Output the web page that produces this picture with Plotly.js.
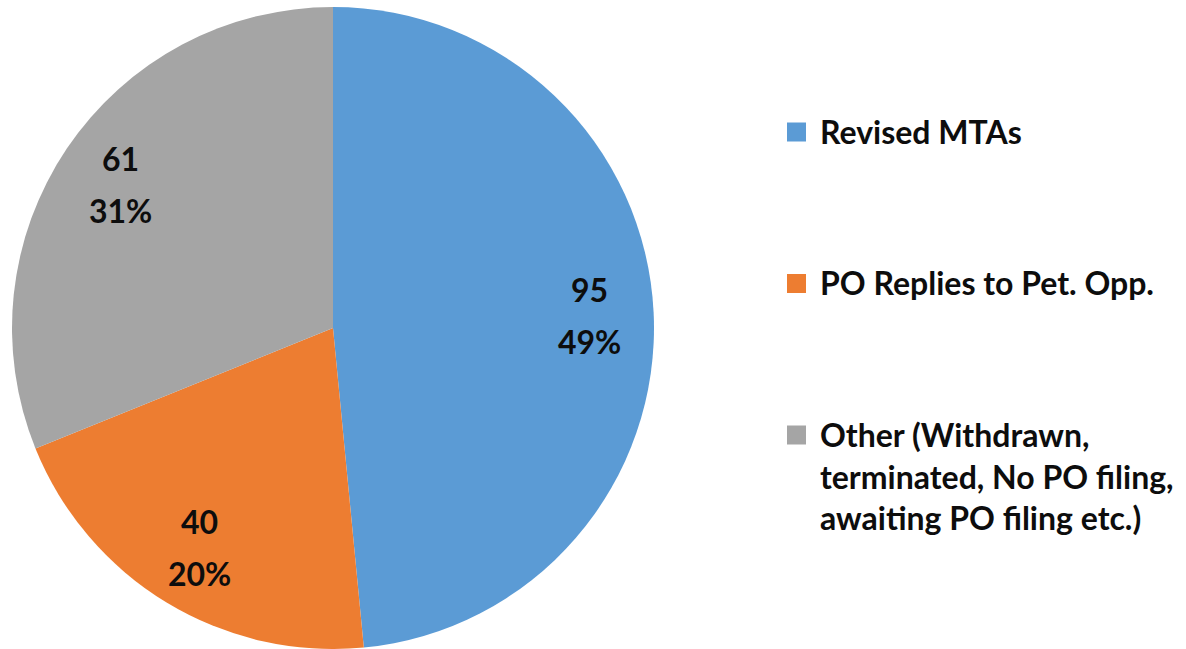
<!DOCTYPE html>
<html><head><meta charset="utf-8">
<script src="https://cdn.plot.ly/plotly-3.0.1.min.js"></script>
<style>html,body{margin:0;padding:0;background:#fff;overflow:hidden}</style>
</head><body><div id="chart" style="width:1186px;height:649px"></div>
<script>
// ---- data ----
const categories = ["Revised MTAs", "PO Replies to Pet. Opp.", "Other (Withdrawn,<br>terminated, No PO filing,<br>awaiting PO filing etc.)"];
const values = [95, 40, 61];
const percentLabels = ["49%", "20%", "31%"];
const colors = ["#5B9BD5", "#ED7D31", "#A5A5A5"];

// ---- layout helpers ----
const W = 1186, H = 649;
const FONT = "Lato, 'Open Sans', sans-serif";
const TEXT_COLOR = "#0d0d0d";
const FONT_SIZE = 32;
const px2x = p => p / W;
const px2y = p => 1 - p / H;

// pie geometry (pixels)
const pieCx = 333, pieCy = 328, pieR = 321;

const trace = {
  type: "pie",
  labels: categories,
  values: values,
  textinfo: "none",
  marker: {colors: colors, line: {width: 0}},
  sort: false,
  direction: "clockwise",
  rotation: 0,
  hoverinfo: "none",
  domain: {x: [px2x(pieCx - pieR), px2x(pieCx + pieR)], y: [px2y(pieCy + pieR), px2y(pieCy - pieR)]}
};

const shapes = [], annotations = [];
const labelFont = {family: FONT, size: FONT_SIZE, color: TEXT_COLOR, weight: "bold"};

// data labels placed on each slice's bisector
const total = values.reduce((a, b) => a + b, 0);
const labelRadius = 0.8, labelHalfGap = 26;
let cum = 0;
values.forEach((v, i) => {
  const mid = (cum + v / 2) / total * 2 * Math.PI;
  cum += v;
  const lx = pieCx + labelRadius * pieR * Math.sin(mid);
  const ly = pieCy - labelRadius * pieR * Math.cos(mid);
  [[String(v), ly - labelHalfGap], [percentLabels[i], ly + labelHalfGap]].forEach(([t, yy]) => {
    annotations.push({
      xref: "paper", yref: "paper", x: px2x(lx), y: px2y(yy),
      xanchor: "center", yanchor: "middle", showarrow: false,
      text: t, font: labelFont
    });
  });
});

// legend built from the data arrays
const legendMarkerX = 787, legendMarkerSize = 19, legendTextX = 818;
const legendFirstY = 132, legendStep = 151.5;
categories.forEach((c, i) => {
  const cy = legendFirstY + i * legendStep;
  shapes.push({
    type: "rect", xref: "paper", yref: "paper",
    x0: px2x(legendMarkerX), x1: px2x(legendMarkerX + legendMarkerSize),
    y0: px2y(cy + legendMarkerSize / 2), y1: px2y(cy - legendMarkerSize / 2),
    fillcolor: colors[i], line: {width: 0}
  });
  annotations.push({
    xref: "paper", yref: "paper",
    x: px2x(legendTextX), y: px2y(cy - 22),
    xanchor: "left", yanchor: "top", align: "left",
    showarrow: false, text: c, font: labelFont
  });
});

const layout = {
  width: W, height: H,
  margin: {l: 0, r: 0, t: 0, b: 0},
  paper_bgcolor: "#fff",
  showlegend: false,
  shapes: shapes,
  annotations: annotations
};

Plotly.newPlot("chart", [trace], layout, {staticPlot: true, displayModeBar: false});
</script>
</body></html>
